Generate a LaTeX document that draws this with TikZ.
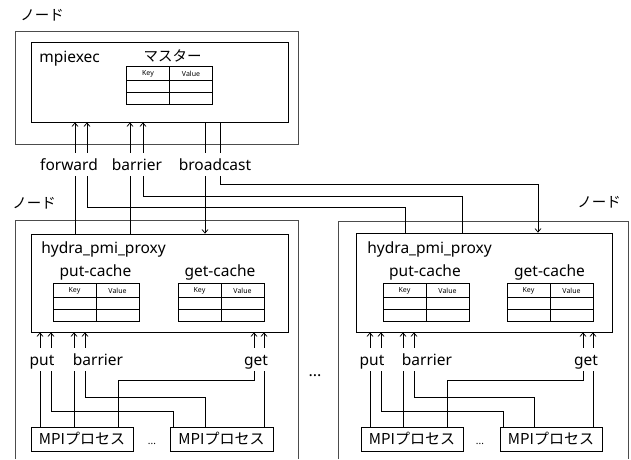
\documentclass[tikz,border=0pt]{standalone}
\usepackage{fontspec}
\setmainfont{Noto Sans}
\newfontfamily\jp{Noto Sans CJK JP}
\usetikzlibrary{arrows.meta}
% key/value table with its top left corner at (#1,#2)
\def\kvtable(#1,#2){
	\draw (#1,#2) rectangle ++(86,38);
	\draw[line width=1.3pt] (#1,#2+14.5) -- ++(86,0);
	\draw (#1,#2+26) -- ++(86,0);
	\draw (#1+43,#2) -- ++(0,38);
	\node[hdr] at (#1+21.5,#2+8) {Key};
	\node[hdr] at (#1+64.5,#2+8) {Value};
}

\begin{document}
\begin{tikzpicture}[x=1pt,y=-1pt,line width=0.75pt,
		every node/.style={font=\fontsize{15.5}{18}\selectfont, inner sep=0pt},
		outerbox/.style={draw=black!70, line width=0.9pt},
		box/.style={draw, line width=0.8pt},
		procbox/.style={draw, line width=0.8pt, minimum height=24pt, font=\jp\fontsize{15}{18}\selectfont},
		jplbl/.style={anchor=base west, font=\jp\fontsize{14.5}{17}\selectfont},
		lbl/.style={anchor=base, text height=12pt, text depth=1pt, inner ysep=5pt},
		hdr/.style={font=\fontsize{7}{8}\bfseries\selectfont},
		arr/.style={-{Straight Barb[length=3.5pt,width=6pt]}}]
		%%%%% START %%%%%
		\useasboundingbox (0,0) rectangle (631,459);
		
		% master node
		\node[jplbl] (hostMname) at (20,20) {ノード};
		\node[outerbox, minimum width=283pt, minimum height=113pt] (hostM) at (156.5,87.5) {};
		\node[box, minimum width=257pt, minimum height=80pt] (mpiexec) at (159.5,82) {};
		\node[anchor=base west] (mpiexecname) at (39,62) {mpiexec};
		\node[jplbl, anchor=base] (master) at (172.5,61) {マスター};
		\kvtable(126.5,66)
		
		\node[lbl] (forward) at (69,170) {forward};
		\node[lbl] (barrierM) at (137,170) {barrier};
		\node[lbl] (broadcast) at (215,170) {broadcast};
		
		% left node
		\node[jplbl] (hostLname) at (12,208) {ノード};
		\draw[outerbox] (15,459) |- (298,220) -- (298,459);
		\node[box, minimum width=257pt, minimum height=98pt] (proxyL) at (159.5,283) {};
		\node[anchor=base west] (proxyLname) at (41,253) {hydra\_pmi\_proxy};
		\node[anchor=base] (putcacheL) at (95.5,276) {put-cache};
		\node[anchor=base] (getcacheL) at (220,276) {get-cache};
		\kvtable(53,283)
		\kvtable(178,283)
		
		\node[lbl] (putL) at (42,365) {put};
		\node[lbl] (barrierL) at (98,365) {barrier};
		\node[lbl] (getL) at (256,365) {get};
		
		\node[procbox, minimum width=102pt] (procL1) at (82,439) {MPIプロセス};
		\node[procbox, minimum width=103pt] (procL2) at (221.5,439) {MPIプロセス};
		\node[font=\fontsize{10}{12}\selectfont] (dotsL) at (152,444) {...};
		
		% right node
		\node[jplbl] (hostRname) at (577,207) {ノード};
		\draw[outerbox] (338,459) |- (628,221) -- (628,459);
		\node[box, minimum width=256pt, minimum height=99pt] (proxyR) at (484,282.5) {};
		\node[anchor=base west] (proxyRname) at (367,253) {hydra\_pmi\_proxy};
		\node[anchor=base] (putcacheR) at (425,276) {put-cache};
		\node[anchor=base] (getcacheR) at (549.5,276) {get-cache};
		\kvtable(383,283)
		\kvtable(507,283)
		
		\node[lbl] (putR) at (372,365) {put};
		\node[lbl] (barrierR) at (427,365) {barrier};
		\node[lbl] (getR) at (586,365) {get};
		
		\node[procbox, minimum width=102pt] (procR1) at (412,439) {MPIプロセス};
		\node[procbox, minimum width=102pt] (procR2) at (551,439) {MPIプロセス};
		\node[font=\fontsize{10}{12}\selectfont] (dotsR) at (480,444) {...};
		
		\node[font=\fontsize{16}{18}\bfseries\selectfont] (dotsM) at (315,376) {...};
		
		% master <-> proxies
		\draw[arr] (75,0 |- forward.north) -- (75,0 |- mpiexec.south);
		\draw[arr] (87,0 |- forward.north) -- (87,0 |- mpiexec.south);
		\draw[arr] (130,0 |- barrierM.north) -- (130,0 |- mpiexec.south);
		\draw[arr] (143,0 |- barrierM.north) -- (143,0 |- mpiexec.south);
		\draw (205,0 |- mpiexec.south) -- (205,0 |- broadcast.north);
		\draw (220,0 |- mpiexec.south) -- (220,0 |- broadcast.north);
		
		\draw (75,0 |- proxyL.north) -- (75,0 |- forward.south);
		\draw (130,0 |- proxyL.north) -- (130,0 |- barrierM.south);
		\draw[arr] (205,0 |- broadcast.south) -- (205,0 |- proxyL.north);
		\draw (405,0 |- proxyR.north) |- (87,207) -- (87,0 |- forward.south);
		\draw (462,0 |- proxyR.north) |- (143,196) -- (143,0 |- barrierM.south);
		\draw[arr] (220,0 |- broadcast.south) |- (538,184) -- (538,0 |- proxyR.north);
		
		% left proxy <-> processes
		\draw[arr] (40,0 |- putL.north) -- (40,0 |- proxyL.south);
		\draw[arr] (51,0 |- putL.north) -- (51,0 |- proxyL.south);
		\draw[arr] (74,0 |- barrierL.north) -- (74,0 |- proxyL.south);
		\draw[arr] (85,0 |- barrierL.north) -- (85,0 |- proxyL.south);
		\draw[arr] (254,0 |- getL.north) -- (254,0 |- proxyL.south);
		\draw[arr] (264,0 |- getL.north) -- (264,0 |- proxyL.south);
		
		\draw (40,0 |- procL1.north) -- (40,0 |- putL.south);
		\draw (173,0 |- procL2.north) |- (51,411) -- (51,0 |- putL.south);
		\draw (74,0 |- procL1.north) -- (74,0 |- barrierL.south);
		\draw (205,0 |- procL2.north) |- (85,397) -- (85,0 |- barrierL.south);
		\draw (118,0 |- procL1.north) |- (254,380) -- (254,0 |- getL.south);
		\draw (264,0 |- procL2.north) -- (264,0 |- getL.south);
		
		% right proxy <-> processes
		\draw[arr] (370,0 |- putR.north) -- (370,0 |- proxyR.south);
		\draw[arr] (381,0 |- putR.north) -- (381,0 |- proxyR.south);
		\draw[arr] (403,0 |- barrierR.north) -- (403,0 |- proxyR.south);
		\draw[arr] (414,0 |- barrierR.north) -- (414,0 |- proxyR.south);
		\draw[arr] (583,0 |- getR.north) -- (583,0 |- proxyR.south);
		\draw[arr] (593,0 |- getR.north) -- (593,0 |- proxyR.south);
		
		\draw (370,0 |- procR1.north) -- (370,0 |- putR.south);
		\draw (503,0 |- procR2.north) |- (381,411) -- (381,0 |- putR.south);
		\draw (403,0 |- procR1.north) -- (403,0 |- barrierR.south);
		\draw (534,0 |- procR2.north) |- (414,397) -- (414,0 |- barrierR.south);
		\draw (447,0 |- procR1.north) |- (583,380) -- (583,0 |- getR.south);
		\draw (593,0 |- procR2.north) -- (593,0 |- getR.south);
		
		%%%%% END %%%%%
\end{tikzpicture}
\end{document}
